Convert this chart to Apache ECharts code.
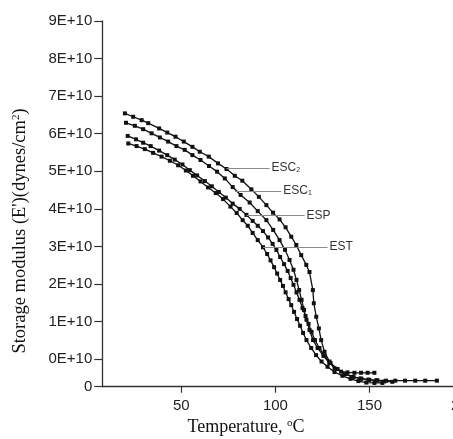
<!DOCTYPE html>
<html>
<head>
<meta charset="utf-8">
<script src="https://cdn.jsdelivr.net/npm/echarts@6/dist/echarts.min.js"></script>
<style>
html,body{margin:0;padding:0;background:#fff;}
#chart{width:453px;height:439px;}
</style>
</head>
<body>
<div id="chart"></div>
<script>
// Temperature (°C) and storage modulus (units of 1E+10 dynes/cm², as labelled on the axis)
const escc2_T = [20.0,24.4,28.9,32.4,38.2,42.5,46.9,51.3,55.9,59.8,64.6,69.5,74.0,78.4,82.4,87.2,91.2,95.2,98.7,102.2,105.4,108.4,111.1,113.7,116.4,118.1,119.9,120.4,121.7,123.1,124.3,126.1,128.7,131.4,134.9,138.3,142.0,145.5,149.0,152.6];
const escc2_E = [6.54,6.45,6.36,6.28,6.14,6.03,5.92,5.79,5.65,5.52,5.39,5.21,5.06,4.88,4.75,4.52,4.32,4.10,3.90,3.72,3.51,3.26,3.04,2.77,2.51,2.32,1.84,1.49,1.13,0.82,0.51,0.20,-0.06,-0.24,-0.33,-0.35,-0.36,-0.36,-0.36,-0.36];

const escc1_T = [20.6,25.3,29.7,34.2,38.6,43.0,47.4,51.8,55.9,60.2,64.7,69.0,73.1,77.3,81.5,86.3,90.6,95.2,98.8,102.2,105.1,107.5,109.6,111.2,112.6,113.9,115.2,116.5,118.1,120.0,122.4,125.5,128.7,132.4,136.7,140.9,145.2,149.4,153.6,157.9,162.1];
const escc1_E = [6.29,6.21,6.12,6.01,5.90,5.79,5.67,5.57,5.43,5.30,5.14,4.99,4.81,4.58,4.37,4.17,3.94,3.70,3.44,3.17,2.91,2.64,2.38,2.11,1.84,1.58,1.31,1.05,0.78,0.51,0.30,0.09,-0.10,-0.26,-0.39,-0.47,-0.51,-0.54,-0.56,-0.59,-0.60];

const esp_T = [21.5,25.9,29.7,33.7,38.2,42.5,46.5,50.6,54.5,58.4,62.5,66.2,69.9,73.6,77.3,81.0,84.6,87.9,90.6,93.4,96.1,98.5,100.5,102.5,104.6,106.5,108.1,109.6,111.2,112.8,114.4,116.0,117.6,119.2,121.0,123.4,126.1,129.3,133.0,137.2,141.5,145.7,149.9,154.2,158.8,163.7,168.9,174.3,179.6,185.8];
const esp_E = [5.94,5.85,5.76,5.67,5.55,5.43,5.31,5.18,5.03,4.89,4.74,4.60,4.45,4.30,4.14,4.00,3.84,3.68,3.55,3.41,3.24,3.07,2.91,2.72,2.53,2.35,2.16,1.98,1.78,1.58,1.36,1.15,0.94,0.73,0.51,0.30,0.09,-0.10,-0.26,-0.39,-0.47,-0.52,-0.55,-0.56,-0.57,-0.57,-0.57,-0.57,-0.57,-0.57];

const est_T = [21.8,26.2,30.6,35.0,39.5,43.9,48.3,52.4,56.2,60.2,64.2,68.3,72.2,76.1,79.4,82.6,85.3,87.9,90.6,93.4,95.6,97.4,99.3,100.9,102.5,104.0,105.4,107.0,108.4,109.9,111.5,113.1,114.7,116.5,119.0,121.6,124.5,127.7,131.4,135.6,139.9,144.1,148.3,152.6,156.8];
const est_E = [5.74,5.67,5.59,5.49,5.39,5.28,5.16,5.02,4.88,4.73,4.57,4.42,4.26,4.06,3.89,3.70,3.55,3.36,3.17,2.98,2.80,2.63,2.45,2.28,2.11,1.95,1.78,1.60,1.44,1.26,1.07,0.89,0.70,0.51,0.30,0.11,-0.06,-0.20,-0.34,-0.44,-0.52,-0.58,-0.62,-0.63,-0.63];

const seriesNames = ['ESC2','ESC1','ESP','EST'];
const labelSub = ['2','1','',''];
const labelBase = ['ESC','ESC','ESP','EST'];
// leader lines: [x start on curve, x end at label, E level]
const leaderX1 = [74.0,78.4,84.6,93.4];
const leaderX2 = [96.9,103.1,115.5,127.7];
const leaderE = [5.09,4.48,3.82,2.99];

const xTicks = [50,100,150,200];
const yTickVals = [-0.73,0,1,2,3,4,5,6,7,8,9];
const yTickLabels = ['0','0E+10','1E+10','2E+10','3E+10','4E+10','5E+10','6E+10','7E+10','8E+10','9E+10'];

const allT = [escc2_T,escc1_T,esp_T,est_T];
const allE = [escc2_E,escc1_E,esp_E,est_E];

const chart = echarts.init(document.getElementById('chart'));
const sans = '"Liberation Sans", Arial, sans-serif';
const serif = '"Liberation Serif", "Times New Roman", serif';

const series = allT.map((T,i) => ({
  name: seriesNames[i],
  type: 'line',
  data: T.map((t,j) => [t, allE[i][j]]),
  symbol: 'rect',
  symbolSize: 4,
  showAllSymbol: true,
  lineStyle: {color:'#111', width:1.3},
  itemStyle: {color:'#111'},
  z: 3,
  markLine: {
    silent: true,
    animation: false,
    symbol: ['none','none'],
    lineStyle: {color:'#8a8a8a', width:1, type:'solid'},
    label: {
      show: true,
      position: 'end',
      distance: 2,
      formatter: labelSub[i] ? '{a|' + labelBase[i] + '}{s|' + labelSub[i] + '}' : '{a|' + labelBase[i] + '}',
      rich: {
        a: {fontFamily: sans, fontSize: 12, color:'#333'},
        s: {fontFamily: sans, fontSize: 7, color:'#333', verticalAlign:'bottom'}
      }
    },
    data: [[{coord:[leaderX1[i], leaderE[i]]},{coord:[leaderX2[i], leaderE[i]]}]]
  }
}));

chart.setOption({
  animation: false,
  backgroundColor: '#fff',
  grid: {left: 102.3, right: -10.6, top: 20.9, bottom: 52.3, containLabel: false, outerBoundsMode: 'none'},
  xAxis: {
    type: 'value', min: 8, max: 200,
    splitLine: {show:false},
    axisLine: {onZero: false, lineStyle:{color:'#333', width:1.3}},
    axisTick: {length: 6, lineStyle:{color:'#333', width:1.2}, customValues: xTicks},
    axisLabel: {customValues: xTicks, fontFamily: sans, fontSize: 15, color:'#222', margin: 12}
  },
  yAxis: {
    type: 'value', min: -0.73, max: 9,
    splitLine: {show:false},
    axisLine: {show:true, onZero: false, lineStyle:{color:'#333', width:1.3}},
    axisTick: {show:true, length: 8, lineStyle:{color:'#333', width:1.2}, customValues: yTickVals},
    axisLabel: {
      customValues: yTickVals, fontFamily: sans, fontSize: 15, color:'#222', margin: 10,
      formatter: function(v){ const k = yTickVals.findIndex(t => Math.abs(t - v) < 1e-6); return k >= 0 ? yTickLabels[k] : ''; }
    }
  },
  graphic: [
    {
      type: 'text', x: 20, y: 231, rotation: Math.PI/2,
      style: {
        text: '{a|Storage modulus (E\')(dynes/cm}{s|2}{a|)}',
        rich: {
          a: {fontFamily: serif, fontSize: 18.5, fill:'#111', color:'#111'},
          s: {fontFamily: serif, fontSize: 11, fill:'#111', color:'#111', verticalAlign:'top'}
        },
        align: 'center', verticalAlign: 'middle',
        textAlign: 'center', textVerticalAlign: 'middle'
      }
    },
    {
      type: 'text', x: 246, y: 427,
      style: {
        text: '{a|Temperature, }{s|o}{a|C}',
        rich: {
          a: {fontFamily: serif, fontSize: 18, fill:'#111', color:'#111'},
          s: {fontFamily: serif, fontSize: 11, fill:'#111', color:'#111', verticalAlign:'top'}
        },
        align: 'center', verticalAlign: 'middle',
        textAlign: 'center', textVerticalAlign: 'middle'
      }
    }
  ],
  series: series
});
</script>
</body>
</html>
